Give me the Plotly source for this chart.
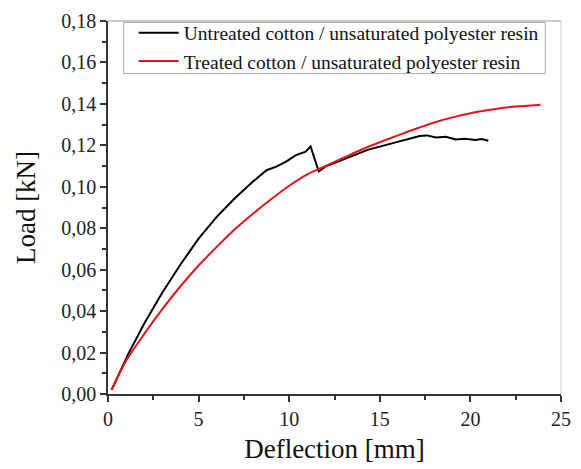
import plotly.graph_objects as go

untreated_x = [0.2, 1.1, 2.0, 3.0, 4.0, 5.0, 6.0, 7.0, 8.0, 8.75, 9.29, 9.83, 10.37, 10.91, 11.18, 11.63, 11.99, 13.07, 14.33, 15.77, 17.2, 17.6, 18.1, 18.65, 19.19, 19.7, 20.27, 20.63, 20.99]
untreated_y = [0.002, 0.019, 0.034, 0.049, 0.0625, 0.0750, 0.0855, 0.0945, 0.1025, 0.1080, 0.1097, 0.1121, 0.1153, 0.1169, 0.1195, 0.1074, 0.1097, 0.1135, 0.1178, 0.1212, 0.1245, 0.1248, 0.1238, 0.1241, 0.1228, 0.1232, 0.1226, 0.1230, 0.1222]
treated_x = [0.2, 1.0, 2.0, 3.0, 4.0, 5.0, 6.0, 7.0, 8.0, 9.0, 10.0, 11.0, 12.0, 13.0, 14.0, 15.0, 16.0, 17.0, 18.0, 19.0, 20.0, 21.0, 22.0, 23.0, 23.87]
treated_y = [0.002, 0.016, 0.029, 0.041, 0.052, 0.062, 0.071, 0.0795, 0.087, 0.094, 0.1005, 0.106, 0.110, 0.114, 0.118, 0.1215, 0.1248, 0.128, 0.131, 0.1335, 0.1355, 0.137, 0.1383, 0.139, 0.1396]

font = "Liberation Serif, Times New Roman, serif"

fig = go.Figure()
fig.add_trace(go.Scatter(x=untreated_x, y=untreated_y, mode="lines",
                         line=dict(color="black", width=2),
                         name="Untreated cotton / unsaturated polyester resin"))
fig.add_trace(go.Scatter(x=treated_x, y=treated_y, mode="lines",
                         line=dict(color="#e8121b", width=2, shape="spline", smoothing=0.8),
                         name="Treated cotton / unsaturated polyester resin"))

fig.update_layout(
    width=581, height=469,
    margin=dict(l=108, r=10, t=20, b=73),
    paper_bgcolor="white", plot_bgcolor="white",
    separators=",.",
    font=dict(family=font, color="#222", size=20),
    showlegend=True,
    legend=dict(x=0.0566, y=1.02, xanchor="left", yanchor="top",
                borderwidth=0, bgcolor="rgba(0,0,0,0)",
                font=dict(family=font, size=19.5, color="#111"),
                tracegroupgap=0, itemwidth=40),
)
fig.update_xaxes(range=[0, 25], tickvals=[0, 5, 10, 15, 20, 25],
                 ticks="outside", ticklen=6, tickcolor="#333", tickwidth=1.5,
                 showline=True, linecolor="#333", linewidth=1.5,
                 showgrid=False, zeroline=False,
                 minor=dict(tickvals=[2.5, 7.5, 12.5, 17.5, 22.5], ticks="outside", ticklen=4, tickcolor="#333"),
                 title=dict(text="Deflection [mm]", font=dict(family=font, size=27, color="#111"), standoff=10),
                 tickfont=dict(family=font, size=20, color="#222"))
fig.update_yaxes(range=[0, 0.18], tickvals=[0, 0.02, 0.04, 0.06, 0.08, 0.10, 0.12, 0.14, 0.16, 0.18],
                 tickformat=".2f",
                 ticks="outside", ticklen=6, tickcolor="#333", tickwidth=1.5,
                 showline=True, linecolor="#333", linewidth=1.5,
                 showgrid=False, zeroline=False,
                 minor=dict(tickvals=[0.01, 0.03, 0.05, 0.07, 0.09, 0.11, 0.13, 0.15, 0.17], ticks="outside", ticklen=4, tickcolor="#333"),
                 title=dict(text="Load [kN]", font=dict(family=font, size=27, color="#111"), standoff=18),
                 tickfont=dict(family=font, size=20, color="#222"))

fig.add_shape(type="line", xref="paper", yref="paper", x0=0, x1=1, y0=1, y1=1,
              line=dict(color="#999999", width=1))
fig.add_shape(type="line", xref="paper", yref="paper", x0=1, x1=1, y0=0, y1=1,
              line=dict(color="#cccccc", width=1))
# legend frame
fig.add_shape(type="rect", xref="paper", yref="paper",
              x0=16 / 463, x1=447 / 463, y0=1 - 53 / 376, y1=1 - 1.5 / 376,
              line=dict(color="#aaaaaa", width=1), fillcolor="rgba(0,0,0,0)", layer="above")

fig.write_html("out.html")
